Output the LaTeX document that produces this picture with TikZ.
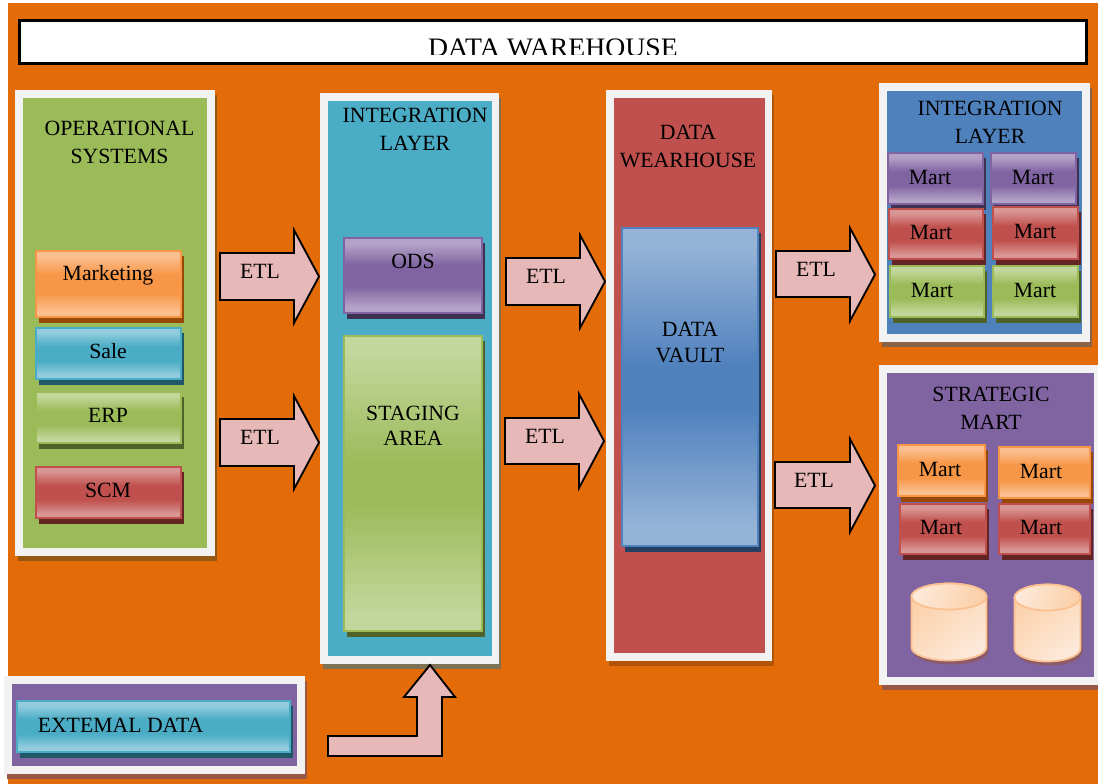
\documentclass[tikz,border=0pt]{standalone}
\usepackage{fontspec}
\setmainfont{Liberation Serif}
\definecolor{bgor}{HTML}{E36C09}
\definecolor{frameC}{HTML}{F2F2F2}
\definecolor{arrowC}{HTML}{E6B8B7}
\definecolor{gM}{HTML}{9BBB59}\definecolor{gL}{HTML}{C3D69B}\definecolor{gD}{HTML}{4F6228}
\definecolor{tM}{HTML}{4BACC6}\definecolor{tL}{HTML}{93CDDD}\definecolor{tD}{HTML}{205867}
\definecolor{rM}{HTML}{C0504D}\definecolor{rL}{HTML}{D99694}\definecolor{rD}{HTML}{632423}
\definecolor{bM}{HTML}{4F81BD}\definecolor{bL}{HTML}{95B3D7}\definecolor{bD}{HTML}{243F60}
\definecolor{pM}{HTML}{8064A2}\definecolor{pL}{HTML}{B3A2C7}\definecolor{pD}{HTML}{3F3151}
\definecolor{oM}{HTML}{F79646}\definecolor{oL}{HTML}{FBBF8F}\definecolor{oD}{HTML}{984807}
\definecolor{cylA}{HTML}{FDE9D9}\definecolor{cylB}{HTML}{FBD0A8}\definecolor{cylS}{HTML}{FAC090}\definecolor{cylD}{HTML}{8C5A68}
\newcommand{\glossdef}[1]{%
  \pgfdeclareverticalshading{gloss#1}{100bp}{color(0bp)=(#1L);color(26bp)=(#1L);color(29bp)=(#1L);color(43bp)=(#1M);color(57bp)=(#1M);color(71bp)=(#1L);color(100bp)=(#1L)}%
  \pgfdeclareverticalshading{soft#1}{100bp}{color(0bp)=(#1L);color(28bp)=(#1L);color(47bp)=(#1M);color(53bp)=(#1M);color(72bp)=(#1L);color(100bp)=(#1L)}}
\glossdef{g}\glossdef{t}\glossdef{r}\glossdef{b}\glossdef{p}\glossdef{o}
\tikzset{
  x=0.75pt,y=-0.75pt,
  txt/.style={font=\fontsize{16.3}{21}\selectfont,align=center,inner sep=0pt,text=black},
  rectnode/.style={inner sep=0pt,outer sep=0pt,anchor=center},
  blockarrow/.style={draw=black,fill=arrowC,line width=1.4pt,line join=miter,miter limit=6},
}
% #1 name, #2-#5 outer rectangle, #6 right margin, #7 fill, #8 shadow colour
\newcommand{\panel}[8]{%
  \fill[#8] (#2+3,#3+5) rectangle (#4+2,#5+5);
  \node[rectnode,fill=frameC,minimum width={(#4-#2)*0.75pt},minimum height={(#5-#3)*0.75pt}] (#1) at ({(#2+#4)/2},{(#3+#5)/2}) {};
  \fill[#7] (#2+8,#3+8) rectangle (#4-#6,#5-8);
}
% #1 name, #2-#5 rectangle, #6 colour letter, #7 shading family
\newcommand{\gbox}[7]{%
  \fill[#6D] (#2+4,#3+6) rectangle (#4+2,#5+5);
  \node[rectnode,draw=#6M,line width=1.7pt,shade,shading=#7#6,minimum width={(#4-#2-2.2)*0.75pt},minimum height={(#5-#3-2.2)*0.75pt}] (#1) at ({(#2+#4)/2},{(#3+#5)/2}) {};
}
% #1 x start, #2 x neck, #3 x tip, #4 body top, #5 body bottom, #6 head top, #7 head bottom
\newcommand{\etlarrow}[7]{%
  \draw[blockarrow] (#1,#4) -- (#2,#4) -- (#2,#6) -- (#3,{(#6+#7)/2}) -- (#2,#7) -- (#2,#5) -- (#1,#5) -- cycle;
}
\newcommand{\cyl}[4]{%
  \pgfmathsetmacro\rx{(#3-#1)/2}
  \pgfmathsetmacro\cx{(#1+#3)/2}
  \fill[cylD] (#1+2,#2+17) -- (#1+2,#4-9) arc[start angle=180,end angle=0,x radius=\rx,y radius=13] -- (#3+2,#2+17) arc[start angle=360,end angle=180,x radius=\rx,y radius=13] -- cycle;
  \shade[top color=cylA,bottom color=cylB,shading angle=-140,draw=cylS,line width=1.3pt] (#1,#2+13) -- (#1,#4-13) arc[start angle=180,end angle=0,x radius=\rx,y radius=13] -- (#3,#2+13) arc[start angle=360,end angle=180,x radius=\rx,y radius=13] -- cycle;
  \shade[top color=cylB,bottom color=cylA,shading angle=-110,draw=cylS,line width=1.3pt] (\cx,#2+13) ellipse [x radius=\rx,y radius=13];
}
\begin{document}
\begin{tikzpicture}
\useasboundingbox (0,0) rectangle (1098,784);
\fill[bgor] (8,3) rectangle (1098,784);
% title
\node[rectnode,draw=black,line width=1.6pt,fill=white,minimum width={1067*0.75pt},minimum height={43*0.75pt}] (titlebox) at (553,42) {};
\begin{scope}
\clip (21,22) rectangle (1085,54.2);
\node[inner sep=0pt,anchor=base,font=\fontsize{20}{24}\selectfont] (titletext) at (553,56.5) {\scalebox{1.04}[1]{DATA WAREHOUSE}};
\end{scope}
% panels
\panel{ops}{15}{90}{215}{556}{8}{gM}{black!35!bgor!85!gM}
\panel{integ}{320}{93}{499}{664}{7}{tM}{black!30!bgor!60!tM}
\panel{dw}{606}{90}{772}{661}{7}{rM}{black!22!bgor}
\panel{ilayer}{879}{83}{1090}{342}{8}{bM}{black!25!bgor!65!bM}
\panel{smart}{879}{365}{1098}{685}{4}{pM}{black!25!bgor!60!pM}
\panel{ext}{4}{676}{305}{774}{8}{pM}{black!25!bgor!60!pM}
% operational systems
\node[txt] (opsT) at (119.5,142.5) {OPERATIONAL\\SYSTEMS};
\gbox{mkt}{35}{250}{182}{318}{o}{gloss}
\gbox{sale}{35}{327}{182}{380}{t}{gloss}
\gbox{erp}{35}{391}{182}{444}{g}{gloss}
\gbox{scm}{35}{466}{182}{519}{r}{gloss}
\node[txt] (mktT) at (108,275) {Marketing};
\node[txt] (saleT) at (108,351.5) {Sale};
\node[txt] (erpT) at (108,415) {ERP};
\node[txt] (scmT) at (108,490.5) {SCM};
% integration layer
\node[txt] (integT) at (415,129.5) {INTEGRATION\\LAYER};
\gbox{ods}{343}{237}{483}{314}{p}{gloss}
\gbox{staging}{343}{335}{483}{632}{g}{soft}
\node[txt] (odsT) at (413,261.5) {ODS};
\node[txt,font=\fontsize{16.3}{19}\selectfont] (stagingT) at (413,426) {STAGING\\AREA};
% data warehouse
\node[txt] (dwT) at (688,146) {DATA\\WEARHOUSE};
\gbox{vault}{621}{227}{759}{547}{b}{soft}
\node[txt,font=\fontsize{16.3}{19.5}\selectfont] (vaultT) at (690,342.5) {DATA\\VAULT};
% integration layer marts
\node[txt] (ilayerT) at (990,122.5) {INTEGRATION\\LAYER};
\gbox{m1}{887}{152}{984}{205}{p}{gloss}
\gbox{m2}{990}{152}{1077}{205}{p}{gloss}
\gbox{m3}{888}{208}{984}{260}{r}{gloss}
\gbox{m4}{992}{206}{1079}{260}{r}{gloss}
\gbox{m5}{889}{265}{985}{318}{g}{gloss}
\gbox{m6}{992}{265}{1079}{318}{g}{gloss}
\node[txt] (m1T) at (930,177) {Mart};
\node[txt] (m2T) at (1033,177) {Mart};
\node[txt] (m3T) at (931,232) {Mart};
\node[txt] (m4T) at (1035,231) {Mart};
\node[txt] (m5T) at (932,290) {Mart};
\node[txt] (m6T) at (1035,290) {Mart};
% strategic mart
\node[txt] (smartT) at (991,408.5) {STRATEGIC\\MART};
\gbox{s1}{897}{444}{986}{497}{o}{gloss}
\gbox{s2}{998}{446}{1091}{499}{o}{gloss}
\gbox{s3}{899}{503}{987}{555}{r}{gloss}
\gbox{s4}{998}{503}{1091}{555}{r}{gloss}
\node[txt] (s1T) at (940,469) {Mart};
\node[txt] (s2T) at (1041,471) {Mart};
\node[txt] (s3T) at (941,527) {Mart};
\node[txt] (s4T) at (1041,527) {Mart};
\cyl{911.5}{583.5}{986.5}{660.5}
\cyl{1014.5}{584.5}{1080.5}{661.5}
% external data
\gbox{extbox}{16}{700}{291}{753}{t}{gloss}
\node[txt] (extT) at (120.5,725) {EXTEMAL DATA};
% arrows
\etlarrow{220}{294}{319}{253}{300}{230}{323}
\etlarrow{220}{294}{319}{419}{466}{396}{489}
\etlarrow{506}{580}{605}{258}{305}{235}{328}
\etlarrow{505}{579}{604}{418}{464}{394}{488}
\etlarrow{776}{850}{875}{251}{297}{228}{321}
\etlarrow{775}{850}{875}{462}{508}{439}{532}
\node[txt] (e1) at (260,271) {ETL};
\node[txt] (e2) at (260,437) {ETL};
\node[txt] (e3) at (546,276) {ETL};
\node[txt] (e4) at (545,436) {ETL};
\node[txt] (e5) at (816,269) {ETL};
\node[txt] (e6) at (814,480) {ETL};
\draw[blockarrow] (328,736) -- (417,736) -- (417,697) -- (404,697) -- (430,665) -- (455,697) -- (442,697) -- (442,756) -- (328,756) -- cycle;
\end{tikzpicture}
\end{document}
